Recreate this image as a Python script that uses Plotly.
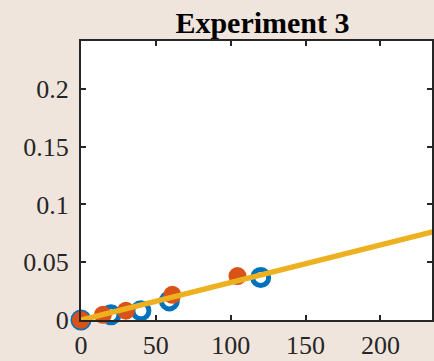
import plotly.graph_objects as go

blue_x = [0, 20, 40, 59, 120, 240]
blue_y = [0, 0.0045, 0.008, 0.0165, 0.0368, 0.077]
orange_x = [0, 14.6, 30, 61, 104.5]
orange_y = [0, 0.0045, 0.008, 0.0218, 0.038]
fit_x = [0, 250]
fit_y = [0, 0.0812]
x_ticks = [0, 50, 100, 150, 200]
y_ticks = [0, 0.05, 0.1, 0.15, 0.2]
y_tick_text = ["0", "0.05", "0.1", "0.15", "0.2"]

fig = go.Figure()
fig.add_trace(go.Scatter(x=blue_x, y=blue_y, mode="markers",
                         marker=dict(symbol="circle-open", size=16, color="#0072BD",
                                     line=dict(width=5, color="#0072BD")),
                         cliponaxis=False, showlegend=False))
fig.add_trace(go.Scatter(x=orange_x, y=orange_y, mode="markers",
                         marker=dict(symbol="circle", size=18, color="#D95319",
                                     line=dict(width=0)),
                         cliponaxis=False, showlegend=False))
fig.add_trace(go.Scatter(x=fit_x, y=fit_y, mode="lines",
                         line=dict(color="#EDB120", width=5.5),
                         showlegend=False))

axis_common = dict(showgrid=False, zeroline=False, showline=True, linecolor="#262626",
                   linewidth=2, mirror="ticks", ticks="inside", ticklen=5,
                   tickwidth=1.5, tickcolor="#262626",
                   tickfont=dict(family="Liberation Serif", size=26, color="#262626"))

fig.update_xaxes(range=[0, 234.4], tickvals=x_ticks, ticklabelstandoff=1, **axis_common)
fig.update_yaxes(range=[0, 0.2414], tickvals=y_ticks, ticktext=y_tick_text,
                 ticklabelstandoff=5, **axis_common)

fig.update_layout(
    width=434, height=361,
    margin=dict(l=81, r=0, t=41, b=41),
    paper_bgcolor="#EFE5DC", plot_bgcolor="white",
    title=dict(text="<b>Experiment 3</b>", x=0.517, xref="paper", xanchor="center",
               y=1 - 22 / 361, yref="container", yanchor="middle",
               font=dict(family="Liberation Serif", size=30, color="black")),
)

fig.write_html("out.html")
